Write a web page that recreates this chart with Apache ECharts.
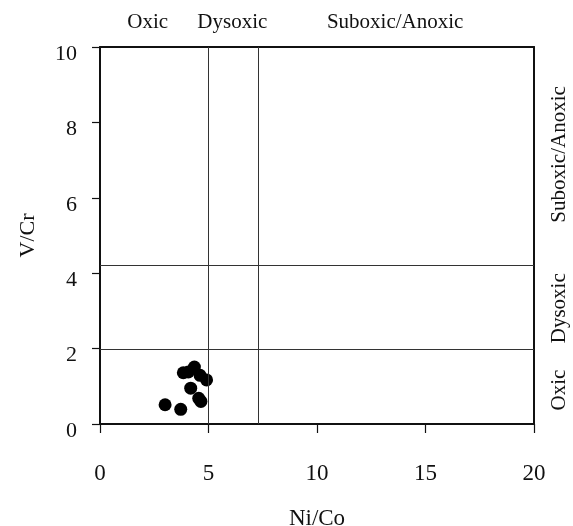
<!DOCTYPE html>
<html><head><meta charset="utf-8">
<script src="https://cdn.jsdelivr.net/npm/echarts@6/dist/echarts.min.js"></script>
<style>html,body{margin:0;padding:0;background:#fff}#c{width:573px;height:526px}</style>
</head><body><div id="c"></div>
<script>
const niCo = [3.0, 3.72, 4.55, 4.65, 4.18, 3.84, 4.07, 4.35, 4.61, 4.91];
const vCr  = [0.51, 0.39, 0.68, 0.60, 0.95, 1.36, 1.38, 1.51, 1.29, 1.17];
const xThresholds = [5, 7.3];
const yThresholds = [1.97, 4.21];
const xTicks = [0, 5, 10, 15, 20];
const yTicks = [0, 2, 4, 6, 8, 10];
const topLabels = [['Oxic', 2.2], ['Dysoxic', 6.1], ['Suboxic/Anoxic', 13.6]];
const rightLabels = [['Oxic', 0.9], ['Dysoxic', 3.07], ['Suboxic/Anoxic', 7.15]];

const font = 'Liberation Serif';
const chart = echarts.init(document.getElementById('c'));
const lineStyle = {color: '#111', width: 2};
const option = {
  animation: false,
  grid: {left: 100, right: 39, top: 47, bottom: 102, show: false, containLabel: false, outerBoundsMode: 'none'},
  xAxis: [{
    type: 'value', min: xTicks[0], max: xTicks[xTicks.length-1], interval: 5,
    name: 'Ni/Co', nameLocation: 'middle', nameGap: 83,
    nameTextStyle: {fontFamily: font, fontSize: 23, color: '#111'},
    axisLine: {show: true, onZero: false, lineStyle},
    axisTick: {show: true, inside: false, length: 9, lineStyle: {color: '#111', width: 1.2}},
    axisLabel: {fontFamily: font, fontSize: 23, color: '#111', margin: 38},
    splitLine: {show: false}
  }, {
    type: 'value', position: 'top', min: 0, max: 20, interval: 5,
    axisLine: {show: true, onZero: false, lineStyle},
    axisTick: {show: false}, axisLabel: {show: false}, splitLine: {show: false}
  }],
  yAxis: [{
    type: 'value', min: yTicks[0], max: yTicks[yTicks.length-1], interval: 2,
    name: 'V/Cr', nameLocation: 'middle', nameGap: 61,
    nameTextStyle: {fontFamily: font, fontSize: 22, color: '#111'},
    axisLine: {show: true, onZero: false, lineStyle},
    axisTick: {show: true, inside: false, length: 8, lineStyle: {color: '#111', width: 1.2}},
    axisLabel: {fontFamily: font, fontSize: 22, color: '#111', margin: 23, verticalAlign: 'top', lineHeight: 14},
    splitLine: {show: false}
  }, {
    type: 'value', position: 'right', min: 0, max: 10, interval: 2,
    axisLine: {show: true, onZero: false, lineStyle},
    axisTick: {show: false}, axisLabel: {show: false}, splitLine: {show: false}
  }],
  series: [{
    type: 'scatter',
    data: niCo.map((x, i) => [x, vCr[i]]),
    symbolSize: 13,
    itemStyle: {color: '#000', opacity: 1},
    markLine: {
      silent: true, symbol: 'none', label: {show: false},
      lineStyle: {color: '#333', width: 1, type: 'solid'},
      data: xThresholds.map(v => ({xAxis: v})).concat(yThresholds.map(v => ({yAxis: v})))
    }
  }]
};
chart.setOption(option);
const g = [];
topLabels.forEach(([t, x]) => {
  const p = chart.convertToPixel({xAxisIndex: 0, yAxisIndex: 0}, [x, 10]);
  g.push({type: 'text', x: p[0], y: 22, style: {text: t, font: '21px "Liberation Serif"', fill: '#111', align: 'center', verticalAlign: 'middle'}});
});
rightLabels.forEach(([t, y]) => {
  const p = chart.convertToPixel({xAxisIndex: 0, yAxisIndex: 0}, [20, y]);
  g.push({type: 'text', x: 559, y: p[1], rotation: Math.PI/2, style: {text: t, font: '21px "Liberation Serif"', fill: '#111', align: 'center', verticalAlign: 'middle'}});
});
chart.setOption({graphic: g});
</script></body></html>
